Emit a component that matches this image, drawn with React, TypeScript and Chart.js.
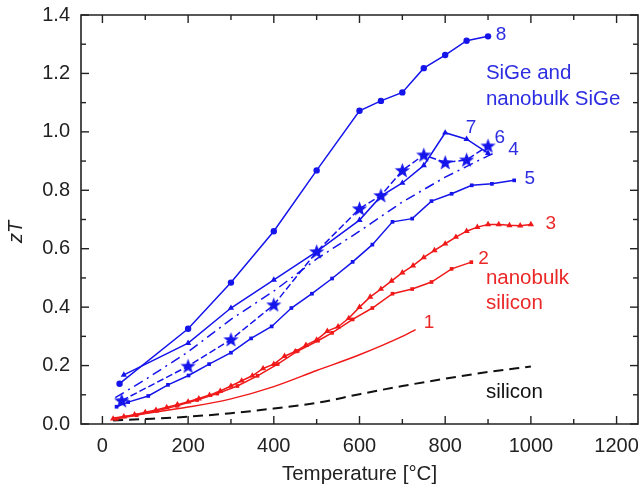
import React, { useEffect, useRef } from "react";
import { Chart, registerables } from "chart.js";
Chart.register(...registerables);

// ---- data (Temperature °C, zT) ----
const temps8 = [40, 200, 300, 400, 500, 600, 650, 700, 750, 800, 850, 900];
const zt8 = [0.138, 0.326, 0.484, 0.66, 0.868, 1.072, 1.106, 1.135, 1.218, 1.263, 1.312, 1.327];

const temps7 = [50, 200, 300, 400, 500, 600, 650, 700, 750, 800, 850, 900];
const zt7 = [0.168, 0.277, 0.397, 0.493, 0.59, 0.698, 0.78, 0.825, 0.885, 0.997, 0.975, 0.927];

const temps6 = [45, 200, 300, 400, 500, 600, 650, 700, 750, 800, 850, 900];
const zt6 = [0.08, 0.198, 0.289, 0.408, 0.59, 0.737, 0.782, 0.868, 0.921, 0.895, 0.904, 0.952];

const temps4 = [30, 100, 200, 300, 400, 500, 600, 700, 800, 900, 920];
const zt4 = [0.09, 0.152, 0.247, 0.358, 0.455, 0.565, 0.66, 0.76, 0.845, 0.918, 0.931];

const temps5 = [33, 60, 107, 153, 201, 249, 300, 347, 395, 441, 489, 536, 584, 630, 677, 723, 768, 815, 862, 909, 961];
const zt5 = [0.059, 0.075, 0.096, 0.134, 0.166, 0.205, 0.244, 0.293, 0.334, 0.397, 0.446, 0.498, 0.555, 0.614, 0.692, 0.703, 0.763, 0.788, 0.817, 0.822, 0.834];

const temps3 = [25, 50, 75, 100, 125, 150, 175, 200, 225, 250, 275, 300, 325, 350, 375, 400, 425, 450, 475, 500,
  525, 550, 575, 600, 625, 650, 675, 700, 725, 750, 775, 800, 825, 850, 875, 900, 925, 950, 975, 1000];
const zt3 = [0.018, 0.025, 0.032, 0.04, 0.048, 0.057, 0.066, 0.076, 0.087, 0.099, 0.113, 0.13, 0.148, 0.165, 0.19, 0.205, 0.232, 0.248, 0.27, 0.288,
  0.318, 0.333, 0.362, 0.4, 0.435, 0.462, 0.49, 0.518, 0.542, 0.57, 0.594, 0.617, 0.64, 0.66, 0.674, 0.683, 0.683, 0.68, 0.679, 0.683];

const temps2 = [33, 80, 127, 174, 221, 268, 315, 362, 409, 456, 503, 536, 584, 630, 677, 723, 768, 815, 861];
const zt2 = [0.018, 0.03, 0.045, 0.062, 0.082, 0.104, 0.13, 0.165, 0.205, 0.25, 0.285, 0.312, 0.358, 0.397, 0.446, 0.462, 0.486, 0.531, 0.554];

const temps1 = [25, 100, 200, 300, 400, 500, 600, 700, 731];
const zt1 = [0.02, 0.036, 0.058, 0.086, 0.128, 0.183, 0.237, 0.3, 0.323];

const tempsSi = [25, 100, 200, 300, 400, 500, 600, 700, 800, 900, 1000];
const ztSi = [0.012, 0.017, 0.025, 0.037, 0.053, 0.072, 0.102, 0.13, 0.155, 0.178, 0.197];

const xTickValues = [0, 200, 400, 600, 800, 1000, 1200];
const xMinorValues = [100, 300, 500, 700, 900, 1100];
const yTickValues = [0, 0.2, 0.4, 0.6, 0.8, 1.0, 1.2, 1.4];
const yMinorValues = [0.1, 0.3, 0.5, 0.7, 0.9, 1.1, 1.3];

const xTitle = "Temperature [°C]";
const yTitle = "zT";

// annotation labels: [text, T, zT, colour key]
const labels: [string, number, number, string][] = [
  ["8", 918, 1.333, "b"],
  ["SiGe and", 895, 1.201, "b"],
  ["nanobulk SiGe", 895, 1.112, "b"],
  ["7", 848, 1.015, "b"],
  ["6", 915, 0.98, "b"],
  ["4", 947, 0.938, "b"],
  ["5", 985, 0.84, "b"],
  ["3", 1034, 0.686, "r"],
  ["2", 877, 0.565, "r"],
  ["nanobulk", 895, 0.5, "r"],
  ["silicon", 895, 0.414, "r"],
  ["1", 750, 0.346, "r"],
  ["silicon", 895, 0.108, "k"],
];

const BLUE = "rgb(20,20,235)";
const RED = "rgb(240,25,25)";
const BLUE_TXT = "rgb(45,45,225)";
const RED_TXT = "rgb(235,40,40)";
const FONT = "'Liberation Sans', Arial, sans-serif";

const pts = (xs: number[], ys: number[]) => xs.map((x, i) => ({ x, y: ys[i] }));

function makeStar(): HTMLCanvasElement {
  const c = document.createElement("canvas");
  c.width = 17;
  c.height = 17;
  const g = c.getContext("2d")!;
  g.fillStyle = BLUE;
  g.beginPath();
  const cx = 8.5, cy = 9, R = 8, r = 3.3;
  for (let i = 0; i < 10; i++) {
    const a = -Math.PI / 2 + (i * Math.PI) / 5;
    const rr = i % 2 === 0 ? R : r;
    const px = cx + rr * Math.cos(a);
    const py = cy + rr * Math.sin(a);
    if (i === 0) g.moveTo(px, py);
    else g.lineTo(px, py);
  }
  g.closePath();
  g.fill();
  return c;
}

const framePlugin = {
  id: "frameTicks",
  afterDraw(chart: any) {
    const { ctx, chartArea, scales } = chart;
    const { left, right, top, bottom } = chartArea;
    const x = scales.x, y = scales.y;
    ctx.save();
    ctx.setLineDash([]);
    ctx.lineDashOffset = 0;
    ctx.globalAlpha = 1;
    ctx.globalCompositeOperation = "source-over";
    ctx.strokeStyle = "#222222";
    ctx.lineWidth = 1.6;
    ctx.beginPath();
    ctx.rect(left, top, right - left, bottom - top);
    ctx.stroke();
    ctx.lineWidth = 1.4;
    const seg = (a: number, b: number, c: number, d: number) => {
      ctx.beginPath();
      ctx.moveTo(a, b);
      ctx.lineTo(c, d);
      ctx.stroke();
    };
    xTickValues.forEach((v) => {
      const p = x.getPixelForValue(v);
      seg(p, bottom, p, bottom - 8);
      seg(p, top, p, top + 8);
    });
    xMinorValues.forEach((v) => {
      const p = x.getPixelForValue(v);
      seg(p, bottom, p, bottom - 5);
      seg(p, top, p, top + 5);
    });
    yTickValues.forEach((v) => {
      const p = y.getPixelForValue(v);
      seg(left, p, left + 8, p);
      seg(right, p, right - 8, p);
    });
    yMinorValues.forEach((v) => {
      const p = y.getPixelForValue(v);
      seg(left, p, left + 5, p);
      seg(right, p, right - 5, p);
    });

    // annotation texts
    ctx.textBaseline = "middle";
    ctx.textAlign = "left";
    labels.forEach(([t, tx, ty, c]) => {
      const isNum = t.length === 1;
      ctx.font = `${isNum ? 19 : 20.5}px ${FONT}`;
      ctx.fillStyle = c === "b" ? BLUE_TXT : c === "r" ? RED_TXT : "#111";
      ctx.fillText(t, x.getPixelForValue(tx), y.getPixelForValue(ty));
    });

    // axis titles
    ctx.fillStyle = "#222";
    ctx.textAlign = "center";
    ctx.font = `20.5px ${FONT}`;
    ctx.fillText(xTitle, (left + right) / 2, 474);
    ctx.save();
    ctx.translate(16, 232);
    ctx.rotate(-Math.PI / 2);
    ctx.font = `italic 20px ${FONT}`;
    ctx.fillText(yTitle, 0, 0);
    ctx.restore();
    ctx.restore();
  },
};

export default function App() {
  const ref = useRef<HTMLCanvasElement | null>(null);
  useEffect(() => {
    if (!ref.current) return;
    const star = makeStar();
    const base = { showLine: true, borderWidth: 1.5, pointBorderWidth: 0 };
    const chart = new Chart(ref.current, {
      type: "scatter",
      data: {
        datasets: [
          { ...base, label: "8", data: pts(temps8, zt8), borderColor: BLUE, backgroundColor: BLUE, pointStyle: "circle", pointRadius: 3.2, order: 1 },
          { ...base, label: "6", data: pts(temps6, zt6), borderColor: BLUE, backgroundColor: BLUE, pointStyle: star, borderDash: [7, 3], order: 2 },
          { ...base, label: "7", data: pts(temps7, zt7), borderColor: BLUE, backgroundColor: BLUE, pointStyle: "triangle", pointRadius: 3.6, order: 3 },
          { ...base, label: "4", data: pts(temps4, zt4), borderColor: BLUE, backgroundColor: BLUE, pointRadius: 0, borderDash: [10, 5, 2, 5], order: 4 },
          { ...base, label: "5", data: pts(temps5, zt5), borderColor: BLUE, backgroundColor: BLUE, pointStyle: "rect", pointRadius: 2.6, order: 5 },
          { ...base, label: "3", data: pts(temps3, zt3), borderColor: RED, backgroundColor: RED, pointStyle: "triangle", pointRadius: 3.6, order: 6 },
          { ...base, label: "2", data: pts(temps2, zt2), borderColor: RED, backgroundColor: RED, pointStyle: "rect", pointRadius: 2.6, order: 7 },
          { ...base, label: "1", data: pts(temps1, zt1), borderColor: RED, backgroundColor: RED, pointRadius: 0, cubicInterpolationMode: "monotone", order: 8 },
          { ...base, label: "Si", data: pts(tempsSi, ztSi), borderColor: "#111", backgroundColor: "#111", pointRadius: 0, borderWidth: 2, borderDash: [10, 6], cubicInterpolationMode: "monotone", order: 9 },
        ] as any,
      },
      options: {
        animation: false,
        responsive: false,
        maintainAspectRatio: false,
        layout: { padding: { left: 0, right: 1, top: 15, bottom: 0 } },
        plugins: { legend: { display: false }, tooltip: { enabled: false } },
        scales: {
          x: {
            type: "linear",
            min: -50,
            max: 1250,
            afterBuildTicks: (s: any) => {
              s.ticks = xTickValues.map((v) => ({ value: v }));
            },
            afterFit: (s: any) => {
              s.height = 71;
              s.paddingLeft = 0;
              s.paddingRight = 0;
            },
            grid: { display: false, drawTicks: false },
            border: { display: false },
            ticks: {
              padding: 10,
              color: "#222",
              font: { family: FONT, size: 20 },
              maxRotation: 0,
              autoSkip: false,
              callback: (v: any) => String(v),
            },
          },
          y: {
            type: "linear",
            min: 0,
            max: 1.4,
            afterBuildTicks: (s: any) => {
              s.ticks = yTickValues.map((v) => ({ value: v }));
            },
            afterFit: (s: any) => {
              s.width = 81;
              s.paddingTop = 0;
              s.paddingBottom = 0;
            },
            grid: { display: false, drawTicks: false },
            border: { display: false },
            ticks: {
              padding: 11,
              color: "#222",
              font: { family: FONT, size: 20 },
              autoSkip: false,
              callback: (v: any) => Number(v).toFixed(1),
            },
          },
        },
      },
      plugins: [framePlugin],
    });
    return () => chart.destroy();
  }, []);
  return (
    <div style={{ position: "fixed", left: 0, top: 0, width: 642, height: 495, background: "#fff" }}>
      <canvas ref={ref} width={642} height={495} style={{ display: "block" }} />
    </div>
  );
}
